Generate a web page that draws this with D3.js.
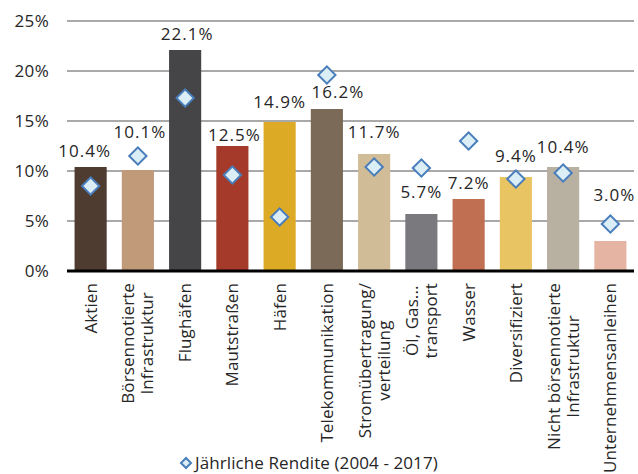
<!DOCTYPE html>
<html><head><meta charset="utf-8">
<script src="https://cdn.jsdelivr.net/npm/d3@7"></script>
<style>
html,body{margin:0;padding:0;background:#fff;}
svg{display:block;}
text{font-family:"Open Sans",sans-serif;fill:#262626;}
</style></head>
<body>
<svg id="chart" width="638" height="474"></svg>
<script>
// ---- data ----
const categories = ["Aktien","Börsennotierte\nInfrastruktur","Flughäfen","Mautstraßen","Häfen","Telekommunikation","Stromübertragung/\nverteilung","Öl, Gas...\ntransport","Wasser","Diversifiziert","Nicht börsennotierte\nInfrastruktur","Unternehmensanleihen"];
const barValues = [10.4,10.1,22.1,12.5,14.9,16.2,11.7,5.7,7.2,9.4,10.4,3.0];
const annualReturn = [8.5,11.5,17.3,9.6,5.4,19.6,10.4,10.3,13.0,9.2,9.8,4.7];
const yTicks = [0,5,10,15,20,25];
const legendLabel = "Jährliche Rendite (2004 - 2017)";

// ---- styles / layout ----
const barColors = ["#4e3c30","#c19a7a","#454547","#a53a2a","#ddaa25","#7b6a57","#d1bc98","#7a7a7e","#c06f52","#e8c462","#b8b0a1","#e6b4a2"];
const labelDx = [-6,2,2,2,0,11,0,0,0,0,0,4];
const labelLift = [10,32,10,5,14,11,16,16,10,15,14,40];

const svg = d3.select("#chart");
const m = {left:67, right:4, top:21, bottom:203};
const W = 638, H = 474;
const x = d3.scaleBand().domain(d3.range(categories.length)).range([m.left, W-m.right]).paddingInner(0.32).paddingOuter(0.16);
const y = d3.scaleLinear().domain([0,25]).range([H-m.bottom, m.top]);

// gridlines
svg.append("g").selectAll("line").data(yTicks.filter(d=>d>0)).join("line")
  .attr("x1", m.left).attr("x2", W-m.right)
  .attr("y1", d=>y(d)).attr("y2", d=>y(d))
  .attr("stroke","#8c8c8c").attr("stroke-width",1.5);

// y tick labels
svg.append("g").selectAll("text").data(yTicks).join("text")
  .attr("x", 49).attr("y", d=>y(d)).attr("dy","0.35em")
  .attr("text-anchor","end").style("font-size","17px").style("letter-spacing","0.3px")
  .text(d=>d+"%");

// bars
svg.append("g").selectAll("rect").data(barValues).join("rect")
  .attr("x",(d,i)=>x(i)).attr("width",x.bandwidth())
  .attr("y",d=>y(d)).attr("height",d=>y(0)-y(d))
  .attr("fill",(d,i)=>barColors[i]);

// axis line
svg.append("line").attr("x1",m.left).attr("x2",W-m.right)
  .attr("y1",y(0)).attr("y2",y(0)).attr("stroke","#000").attr("stroke-width",3);

// diamonds
const diamond = d3.symbol().type(d3.symbolSquare).size(150);
svg.append("g").selectAll("path").data(annualReturn).join("path")
  .attr("d", diamond)
  .attr("transform",(d,i)=>`translate(${x(i)+x.bandwidth()/2},${y(d)}) rotate(45)`)
  .attr("fill","#dbeef5").attr("stroke","#4a7ebb").attr("stroke-width",2);

// value labels
svg.append("g").selectAll("text").data(barValues).join("text")
  .attr("x",(d,i)=>x(i)+x.bandwidth()/2+labelDx[i])
  .attr("y",(d,i)=>y(d)-labelLift[i])
  .attr("text-anchor","middle").style("font-size","17px").style("letter-spacing","1px")
  .text(d=>d.toFixed(1)+"%");

// x labels
const xl = svg.append("g").selectAll("g").data(categories).join("g")
  .attr("transform",(d,i)=>`translate(${x(i)+x.bandwidth()/2},283) rotate(-90)`);
xl.each(function(d){
  const g = d3.select(this);
  const lines = d.split("\n");
  const t = g.append("text").style("font-size","17px").style("letter-spacing","0.1px").attr("text-anchor","middle");
  lines.forEach((ln,k)=>{
    t.append("tspan").attr("x",0).attr("y",(k-(lines.length-1)/2)*19).attr("dy","0.35em").text(ln);
  });
  let maxLen = 0;
  t.selectAll("tspan").each(function(){ maxLen = Math.max(maxLen, this.getComputedTextLength()); });
  t.selectAll("tspan").attr("x", -maxLen/2);
});

// legend
const lg = svg.append("g");
lg.append("path").attr("d", d3.symbol().type(d3.symbolSquare).size(50))
  .attr("transform","translate(186,463) rotate(45)")
  .attr("fill","#dbeef5").attr("stroke","#4a7ebb").attr("stroke-width",2);
lg.append("text").attr("x",195).attr("y",463).attr("dy","0.35em").style("font-size","17px").style("letter-spacing","0.1px").text(legendLabel);
</script>
</body></html>
